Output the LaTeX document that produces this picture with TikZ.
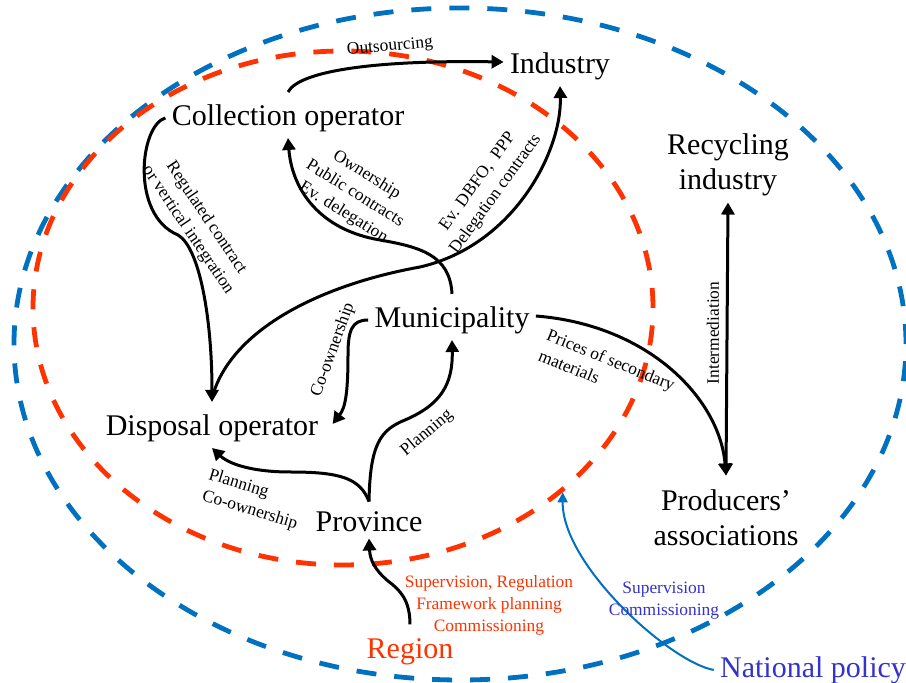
\documentclass[tikz,border=0pt]{standalone}
\usepackage{fontspec}
\setmainfont{Liberation Serif}
\usepackage{tikz}
\usetikzlibrary{arrows.meta,shapes.geometric}

\definecolor{ringblue}{RGB}{0,112,192}
\definecolor{ringred}{RGB}{255,51,0}
\definecolor{natblue}{RGB}{51,51,204}

\begin{document}
\begin{tikzpicture}[x=0.5pt, y=-0.5pt,
    actor/.style = {font=\fontsize{15}{17.5}\selectfont, align=center, inner sep=3pt},
    tag/.style = {font=\fontsize{8.7}{11}\selectfont, align=center, inner sep=0pt},
    ring/.style = {ellipse, line width=2.4pt, dash pattern=on 10pt off 9pt, inner sep=0pt},
    link/.style = {line width=1.5pt, -{Triangle[length=6pt,width=6.5pt]}}]

\useasboundingbox (0,0) rectangle (906,683);

\node[ring, draw=ringblue, minimum width=446pt, minimum height=336pt] (natring) at (460,344) {};
\node[ring, draw=ringred, minimum width=310pt, minimum height=257pt] (regring) at (343,308) {};

\node[actor] (I) at (560,66) {Industry};
\node[actor] (C) at (288,118) {Collection operator};
\node[actor] (RI) at (728,165) {Recycling\\industry};
\node[actor] (M) at (452,320) {Municipality};
\node[actor] (D) at (212,428) {Disposal operator};
\node[actor] (P) at (369,522) {Province};
\node[actor] (A) at (726,518) {Producers'\\associations};
\node[actor, text=ringred] (R) at (410,652) {Region};
\node[actor, text=natblue] (N) at (813,670) {National policy};

\draw[link] ([yshift=3pt]C.north) .. controls (300,70) and (380,60) .. ([yshift=2pt]I.west);
\draw[link] (C.west) .. controls (140,125) and (130,215) .. (178,235)
    .. controls (200,248) and (212,320) .. ([yshift=3pt]D.north);
\draw[link] ([yshift=3pt]M.north) .. controls (450,255) and (420,247) .. (380,240)
    .. controls (320,230) and (292,190) .. (C.south);
\draw[link] ([yshift=5pt]D.north) .. controls (230,330) and (320,285) .. (420,267)
    .. controls (515,245) and (562,150) .. (I.south);
\draw[link] (M.west) .. controls (352,320) and (348,330) .. (348,355)
    .. controls (348,395) and (345,408) .. ([shift={(4pt,2pt)}]D.east);
\draw[link] ([yshift=2pt]P.north) .. controls (370,445) and (380,430) .. (405,420)
    .. controls (440,405) and (453,385) .. (M.south);
\draw[link] ([yshift=2pt]P.north) .. controls (360,478) and (340,472) .. (290,472)
    .. controls (255,472) and (230,465) .. (D.south);
\draw[link] ([yshift=2pt]M.east) .. controls (650,325) and (720,400) .. ([yshift=4pt]A.north);
\draw[link, {Triangle[length=6pt,width=6.5pt]}-{Triangle[length=6pt,width=6.5pt]}] (RI.south) -- ([yshift=4pt]A.north);
\draw[link] ([yshift=4pt]R.north) .. controls (410,600) and (400,590) .. (388,581)
    .. controls (375,570) and (370,560) .. (P.south);
\draw[line width=1pt, ringblue, -{Triangle[length=5pt,width=5pt]}] (N.west) .. controls (670,662) and (562,565) .. (regring.-40.6);

\node[tag, rotate=5] (outs) at (390,47) {Outsourcing};
\node[tag, rotate=-56] (regul) at (197,224) {Regulated contract\\or vertical integration};
\node[tag, rotate=-32] (own) at (355,194) {Ownership\\Public contracts\\Ev. delegation};
\node[tag, rotate=54] (dbfo) at (487,188) {Ev. DBFO,~ PPP\\Delegation contracts};
\node[tag, rotate=70] (coown) at (333,350) {Co-ownership};
\node[tag, rotate=40] (plan) at (427,433) {Planning};
\node[tag, rotate=-17, align=left] (planco) at (253,500) {Planning\\Co-ownership};
\node[tag, rotate=-22, align=left] (prices) at (607,370) {Prices of secondary\\materials};
\node[tag, rotate=90] (inter) at (713,333) {Intermediation};
\node[tag, text=ringred] (regtasks) at (489,605) {Supervision, Regulation\\Framework planning\\Commissioning};
\node[tag, text=natblue] (nattasks) at (664,601) {Supervision\\Commissioning};
\end{tikzpicture}
\end{document}
